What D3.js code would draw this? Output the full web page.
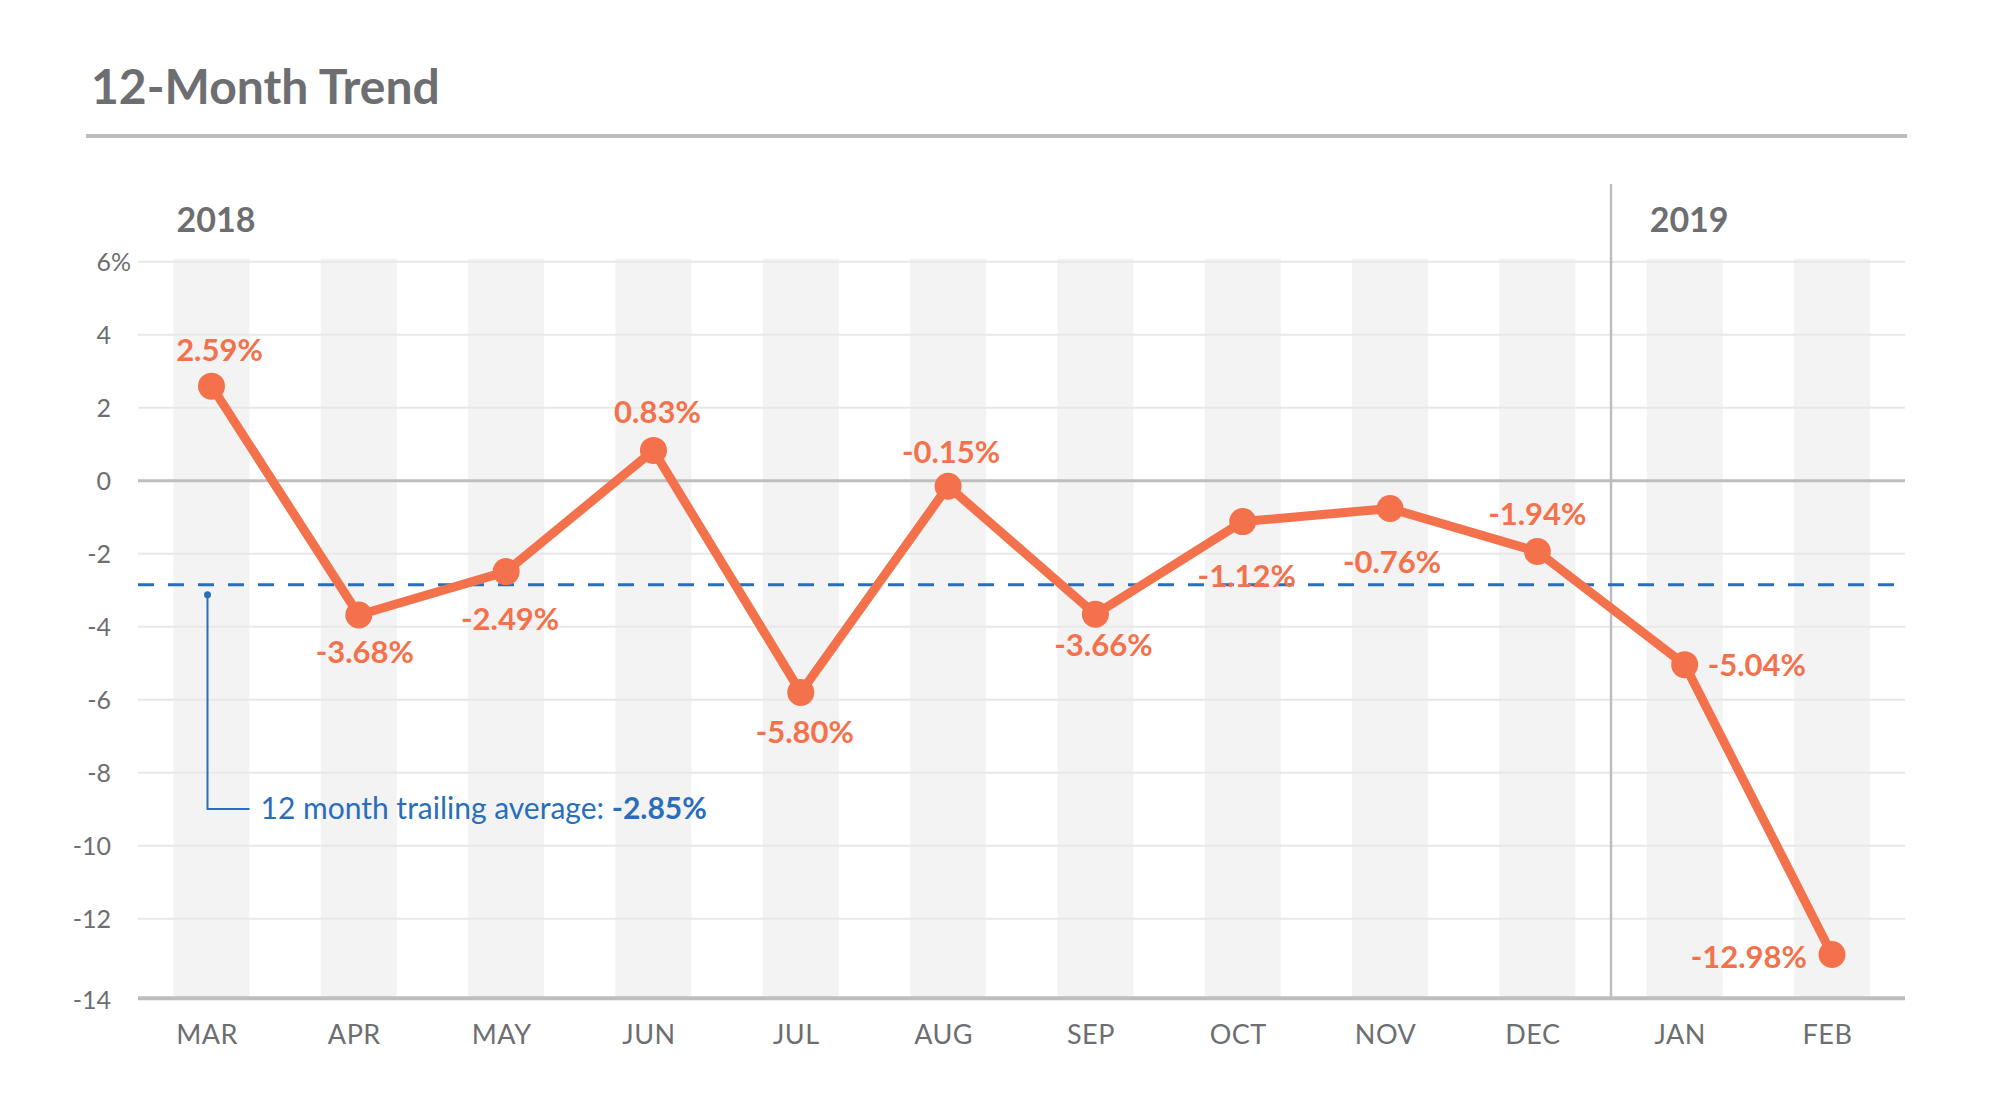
<!DOCTYPE html>
<html>
<head>
<meta charset="utf-8">
<script src="https://cdn.jsdelivr.net/npm/d3@7"></script>
<style>
  html, body { margin: 0; padding: 0; background: #ffffff; }
  svg { display: block; }
  text { font-family: Lato, "Open Sans", sans-serif; }
</style>
</head>
<body>
<svg id="chart" width="2000" height="1103"></svg>
<script>
// ---------- data ----------
const months = ["MAR", "APR", "MAY", "JUN", "JUL", "AUG", "SEP", "OCT", "NOV", "DEC", "JAN", "FEB"];
const values = [2.59, -3.68, -2.49, 0.83, -5.80, -0.15, -3.66, -1.12, -0.76, -1.94, -5.04, -12.98];
const yTicks = [6, 4, 2, 0, -2, -4, -6, -8, -10, -12, -14];
const yearLabels = ["2018", "2019"];
const yearStarts = ["MAR", "JAN"];
const trailingAverage = -2.85;
const titleText = "12-Month Trend";
const annotationText = "12 month trailing average: ";

// ---------- styles / layout ----------
const ORANGE = "#f3714b";
const BLUE = "#2a6ebb";
const GREY_TEXT = "#6d6e71";
const GRID = "#e8e8e8";
const BAND = "#f3f3f3";
const AXIS = "#bebebe";

const plotLeft = 138, plotRight = 1905;
const svg = d3.select("#chart");

const x = d3.scalePoint().domain(months).range([211.5, 1832]);
const bandW = 76;
const y = d3.scaleLinear().domain([-14, 6]).range([991.7, 261.7]);
const yBottom = y(-14) + 6.5;

// label placement relative to each point (style, not data)
const labelPlacement = [
  {a: "middle", dx: 8, dy: -25}, {a: "middle", dx: 6, dy: 48}, {a: "middle", dx: 4, dy: 58},
  {a: "middle", dx: 4, dy: -27}, {a: "middle", dx: 4, dy: 51}, {a: "middle", dx: 3, dy: -23},
  {a: "middle", dx: 8, dy: 42}, {a: "middle", dx: 4, dy: 65}, {a: "middle", dx: 2, dy: 65},
  {a: "middle", dx: 0, dy: -27}, {a: "start", dx: 23, dy: 11}, {a: "end", dx: -25, dy: 14}
];

// ---------- title ----------
svg.append("text")
  .attr("x", 91).attr("y", 104)
  .attr("fill", GREY_TEXT)
  .attr("font-size", 48).attr("font-weight", 700)
  .text(titleText);

svg.append("line")
  .attr("x1", 86).attr("x2", 1907)
  .attr("y1", 136).attr("y2", 136)
  .attr("stroke", "#bdbdbd").attr("stroke-width", 4);

// ---------- bands ----------
svg.append("g").selectAll("rect")
  .data(months)
  .join("rect")
  .attr("x", d => x(d) - bandW / 2)
  .attr("width", bandW)
  .attr("y", y(6) - 3)
  .attr("height", yBottom - (y(6) - 3))
  .attr("fill", BAND);

// ---------- grid lines ----------
svg.append("g").selectAll("line")
  .data(yTicks.filter(d => d !== -14 && d !== 0))
  .join("line")
  .attr("x1", plotLeft).attr("x2", plotRight)
  .attr("y1", d => y(d)).attr("y2", d => y(d))
  .attr("stroke", GRID).attr("stroke-width", 2);

// zero line
svg.append("line")
  .attr("x1", plotLeft).attr("x2", plotRight)
  .attr("y1", y(0)).attr("y2", y(0))
  .attr("stroke", AXIS).attr("stroke-width", 3);

// ---------- y axis labels ----------
const yAxis = d3.axisLeft(y).tickValues(yTicks).tickSize(0).tickPadding(0)
  .tickFormat(d => d3.format("d")(d).replace("−", "-"));
const gy = svg.append("g").attr("transform", "translate(111,0)").call(yAxis);
gy.select(".domain").remove();
gy.selectAll("text")
  .attr("fill", GREY_TEXT)
  .attr("font-size", 25)
  .attr("font-family", "Lato, sans-serif")
  .attr("dy", "0.36em");
gy.selectAll(".tick").filter(d => d === -14)
  .attr("transform", `translate(0,${yBottom + 2})`);
gy.selectAll(".tick").filter(d => d === yTicks[0])
  .append("text")
  .attr("x", 0).attr("dy", "0.36em")
  .attr("text-anchor", "start")
  .attr("fill", GREY_TEXT)
  .attr("font-size", 25)
  .attr("font-family", "Lato, sans-serif")
  .text("%");

// ---------- bottom axis ----------
const xAxis = d3.axisBottom(x).tickSize(0).tickPadding(0);
const gx = svg.append("g").attr("transform", `translate(-5,${yBottom})`).call(xAxis);
gx.select(".domain")
  .attr("d", `M${plotLeft + 5},0H${plotRight + 5}`)
  .attr("stroke", AXIS).attr("stroke-width", 4);
gx.selectAll("text")
  .attr("fill", GREY_TEXT)
  .attr("font-size", 27)
  .attr("font-family", "Lato, sans-serif")
  .attr("dy", 0)
  .attr("y", 46)
  .attr("letter-spacing", 0.5);

// ---------- year divider + labels ----------
const janIdx = months.indexOf(yearStarts[1]);
const dividerX = (x(months[janIdx - 1]) + x(months[janIdx])) / 2;
svg.append("line")
  .attr("x1", dividerX).attr("x2", dividerX)
  .attr("y1", 184).attr("y2", yBottom)
  .attr("stroke", AXIS).attr("stroke-width", 2.5);

svg.append("g").selectAll("text")
  .data(yearLabels)
  .join("text")
  .attr("x", (d, i) => x(yearStarts[i]) - bandW / 2 + 3)
  .attr("y", 232)
  .attr("fill", GREY_TEXT)
  .attr("font-size", 34).attr("font-weight", 700)
  .text(d => d);

// ---------- trailing average ----------
svg.append("line")
  .attr("x1", plotLeft).attr("x2", plotRight)
  .attr("y1", y(trailingAverage)).attr("y2", y(trailingAverage))
  .attr("stroke", BLUE).attr("stroke-width", 3)
  .attr("stroke-dasharray", "16,14");

// ---------- series ----------
const pts = months.map((m, i) => ({m, v: values[i], i}));
svg.append("path")
  .datum(pts)
  .attr("fill", "none")
  .attr("stroke", ORANGE)
  .attr("stroke-width", 9)
  .attr("stroke-linejoin", "round")
  .attr("d", d3.line().x(d => x(d.m)).y(d => y(d.v)));

svg.append("g").selectAll("circle")
  .data(pts)
  .join("circle")
  .attr("cx", d => x(d.m)).attr("cy", d => y(d.v))
  .attr("r", 13.5)
  .attr("fill", ORANGE);

svg.append("g").selectAll("text")
  .data(pts)
  .join("text")
  .attr("x", d => x(d.m) + labelPlacement[d.i].dx)
  .attr("y", d => y(d.v) + labelPlacement[d.i].dy)
  .attr("text-anchor", d => labelPlacement[d.i].a)
  .attr("fill", ORANGE)
  .attr("font-size", 31).attr("font-weight", 700)
  .text(d => d3.format(".2f")(d.v).replace("−", "-") + "%");

// ---------- annotation ----------
const ax = x(months[0]) - 4;
const ay = y(trailingAverage) + 10;
const annY = 809;
svg.append("circle").attr("cx", ax).attr("cy", ay).attr("r", 3.5).attr("fill", BLUE);
svg.append("path")
  .attr("d", `M${ax},${ay}V${annY}H${ax + 42}`)
  .attr("fill", "none").attr("stroke", BLUE).attr("stroke-width", 2);
const ann = svg.append("text")
  .attr("x", ax + 53).attr("y", annY + 10)
  .attr("fill", BLUE).attr("font-size", 30);
ann.append("tspan").text(annotationText);
ann.append("tspan").attr("font-weight", 700)
  .text(d3.format(".2f")(trailingAverage).replace("−", "-") + "%");
</script>
</body>
</html>
